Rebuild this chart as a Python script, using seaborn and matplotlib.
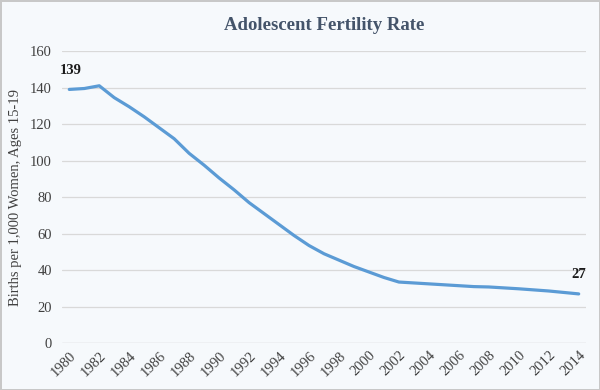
import matplotlib
matplotlib.use("Agg")
import matplotlib.pyplot as plt
import matplotlib.transforms as mtransforms
import seaborn as sns

# Adolescent fertility rate, births per 1,000 women aged 15-19
years = list(range(1980, 2015))
rate = [139, 139.5, 141, 134.5, 129.5, 124, 118, 112, 104, 97.5,
        90.5, 84, 77, 71, 65, 59, 53.5, 49, 45.5, 42,
        39, 36, 33.5, 33, 32.5, 32, 31.5, 31, 30.8, 30.3,
        29.8, 29.2, 28.6, 27.8, 27]
tick_years = list(range(1980, 2015, 2))
y_ticks = [0, 20, 40, 60, 80, 100, 120, 140, 160]

sns.set_theme(style="whitegrid")
plt.rcParams["font.family"] = ["Liberation Serif", "DejaVu Serif"]

bg = "#f6f9fc"
fig = plt.figure(figsize=(6, 3.9), dpi=100, facecolor=bg,
                 edgecolor="#c8c8c8", linewidth=2)
ax = fig.add_axes([0.103, 0.12, 0.874, 0.749])
ax.set_facecolor(bg)

sns.lineplot(x=years, y=rate, ax=ax, color="#5b9bd5", linewidth=2.3)

ax.set_xlim(1979.5, 2014.5)
ax.set_ylim(0, 160)
ax.set_xticks(tick_years)
ax.set_xticklabels([str(y) for y in tick_years], rotation=45, ha="right",
                   rotation_mode="anchor", fontsize=10.5, color="#404040")
shift = mtransforms.ScaledTranslation(5 / 100, 0, fig.dpi_scale_trans)
for lbl in ax.get_xticklabels():
    lbl.set_transform(lbl.get_transform() + shift)
ax.set_yticks(y_ticks)
ax.set_yticklabels([str(v) for v in y_ticks], fontsize=10.5, color="#404040")
ax.tick_params(axis="y", pad=7, length=0)
ax.tick_params(axis="x", pad=4, length=0)

ax.grid(axis="y", color="#d9d9d9", linewidth=0.9)
ax.grid(axis="x", visible=False)
for s in ax.spines.values():
    s.set_visible(False)
ax.axhline(0, color="#d9d9d9", linewidth=0.9, zorder=0)

ax.set_ylabel("Births per 1,000 Women, Ages 15-19", fontsize=10.5,
              color="#404040", labelpad=6)
ax.set_xlabel("")
ax.set_title("Adolescent Fertility Rate", fontsize=13.5, fontweight="bold",
             color="#44546a", pad=15)

# end point labels
ax.annotate(f"{rate[0]:.0f}", (years[0], rate[0]), xytext=(1, 9),
            textcoords="offset points", ha="center", va="bottom",
            fontsize=10.5, fontweight="bold", color="#1a1a1a")
ax.annotate(f"{rate[-1]:.0f}", (years[-1], rate[-1]), xytext=(0, 9),
            textcoords="offset points", ha="center", va="bottom",
            fontsize=10.5, fontweight="bold", color="#1a1a1a")

fig.savefig("out.png", dpi=100, facecolor=bg, edgecolor="#c8c8c8")
